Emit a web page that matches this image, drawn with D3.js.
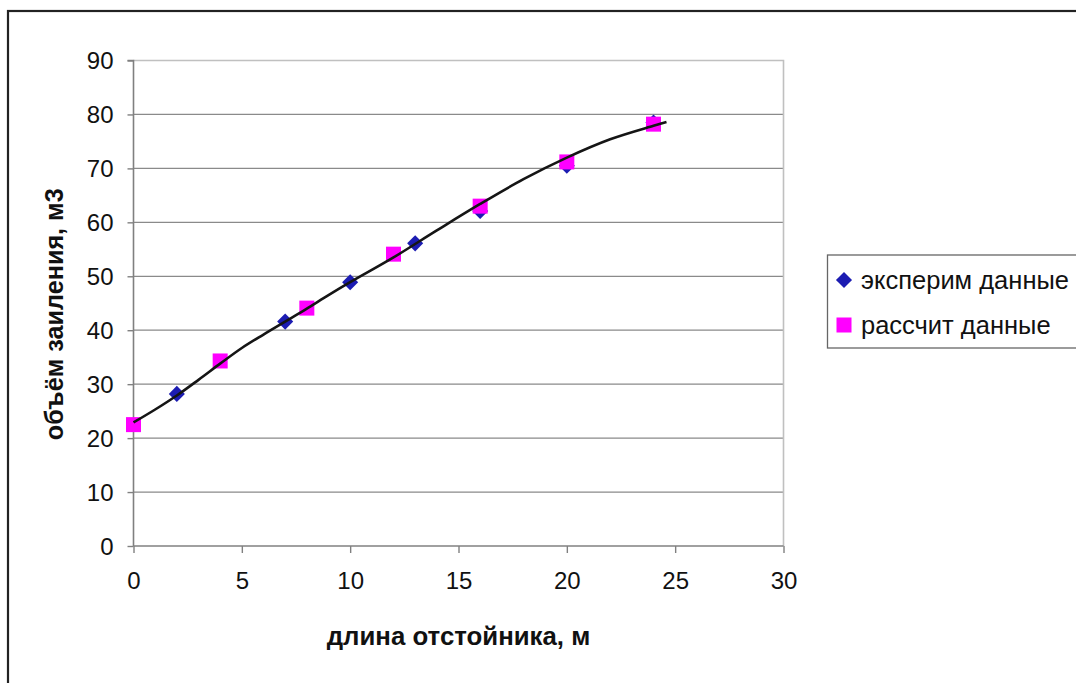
<!DOCTYPE html>
<html><head><meta charset="utf-8">
<script src="https://cdn.jsdelivr.net/npm/d3@7"></script>
<style>body{margin:0;background:#fff}svg{display:block}text{font-family:"Liberation Sans",Arial,sans-serif}</style>
</head><body><svg id="c" width="1076" height="683"></svg>
<script>
const xTicks = [0,5,10,15,20,25,30];
const yTicks = [0,10,20,30,40,50,60,70,80,90];
const expX = [2,7,10,13,16,20,24];
const expY = [28.2,41.6,48.9,56.1,62.1,70.5,78.5];
const calcX = [0,4,8,12,16,20,24];
const calcY = [22.5,34.3,44.1,54.1,63.0,71.2,78.2];
const trendX = [0,1,2,3,4,5,6,7,8,9,10,12,14,16,18,20,22,24,24.6];
const trendY = [22.9,25.3,27.9,30.8,33.8,36.7,39.2,41.6,44.0,46.5,48.9,53.5,58.5,63.4,68.0,72.0,75.4,77.9,78.6];
const seriesNames = ["эксперим данные","рассчит данные"];
const xTitle = "длина отстойника, м";
const yTitle = "объём заиления, м3";

const svg = d3.select("#c");
const L=133.5,R=783.5,T=60.5,B=546;
const x = d3.scaleLinear().domain([0,30]).range([L,R]);
const y = d3.scaleLinear().domain([0,90]).range([B,T]);

// outer frame
svg.append("rect").attr("x",8).attr("y",11).attr("width",1100).attr("height",700)
  .attr("fill","none").attr("stroke","#222").attr("stroke-width",2.2);

// gridlines
svg.append("g").selectAll("line").data(yTicks.filter(d=>d>0&&d<90)).join("line")
  .attr("x1",L).attr("x2",R).attr("y1",d=>y(d)).attr("y2",d=>y(d))
  .attr("stroke","#8a8a8a").attr("stroke-width",1.3);
// plot area top/right border
svg.append("path").attr("d",`M${L},${y(90)}H${R}V${B}`).attr("fill","none")
  .attr("stroke","#c0c0c0").attr("stroke-width",1.6);

// axes
const yAxis = d3.axisLeft(y).tickValues(yTicks).tickSize(6).tickPadding(14);
const gy = svg.append("g").attr("transform",`translate(${L},0)`).call(yAxis);
const xAxis = d3.axisBottom(x).tickValues(xTicks).tickSize(7).tickPadding(19);
const gx = svg.append("g").attr("transform",`translate(0,${B})`).call(xAxis);
[gx,gy].forEach(g=>{
  g.select(".domain").attr("stroke","#808080").attr("stroke-width",1.6);
  g.selectAll(".tick line").attr("stroke","#808080").attr("stroke-width",1.4);
  g.selectAll(".tick text").attr("font-size",24).attr("fill","#111")
   .style("font-family",'"Liberation Sans",Arial,sans-serif');
});
gy.select(".domain").attr("d",`M-6,${y(90)}H0V${B}`);
gx.select(".domain").attr("d",`M${L},0H${R}`);
gy.selectAll(".tick text").attr("dy","0.35em");

// markers: diamonds
const expData = expX.map((v,i)=>({x:v,y:expY[i]}));
const calcData = calcX.map((v,i)=>({x:v,y:calcY[i]}));
const dia = d3.symbol().type(d3.symbolDiamond2).size(165);
svg.append("g").selectAll("path").data(expData).join("path")
  .attr("d",dia).attr("transform",d=>`translate(${x(d.x)},${y(d.y)})`).attr("fill","#1c1cb2");
svg.append("g").selectAll("rect").data(calcData).join("rect")
  .attr("x",d=>x(d.x)-7.5).attr("y",d=>y(d.y)-7.5).attr("width",15).attr("height",15).attr("fill","#ff00ff");

// trend line
const trend = trendX.map((v,i)=>({x:v,y:trendY[i]}));
svg.append("path").datum(trend)
  .attr("d",d3.line().x(d=>x(d.x)).y(d=>y(d.y)).curve(d3.curveCatmullRom))
  .attr("fill","none").attr("stroke","#151515").attr("stroke-width",2.6);

// axis titles
svg.append("text").attr("x",(L+R)/2).attr("y",645).attr("text-anchor","middle")
  .attr("font-size",25.8).attr("font-weight","bold").attr("fill","#111").text(xTitle);
svg.append("text").attr("transform",`translate(63,${(T+B)/2+11}) rotate(-90)`).attr("text-anchor","middle")
  .attr("font-size",25.2).attr("font-weight","bold").attr("fill","#111").text(yTitle);

// legend
const lg = svg.append("g");
lg.append("rect").attr("x",827.5).attr("y",255).attr("width",300).attr("height",93)
  .attr("fill","#fff").attr("stroke","#666").attr("stroke-width",1.3);
lg.append("path").attr("d",dia).attr("transform","translate(844,280)").attr("fill","#1c1cb2");
lg.append("rect").attr("x",836.5).attr("y",317.5).attr("width",15).attr("height",15).attr("fill","#ff00ff");
lg.selectAll("text.l").data(seriesNames).join("text").attr("class","l")
  .attr("x",861).attr("y",(d,i)=>280+i*45).attr("dy","0.35em")
  .attr("font-size",25.5).attr("fill","#111").text(d=>d);
</script></body></html>
